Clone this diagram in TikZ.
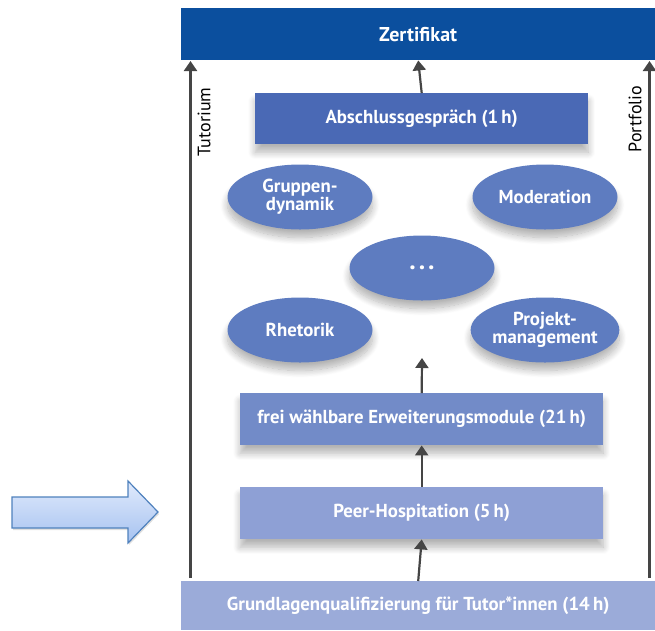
\documentclass[tikz,border=0pt]{standalone}
\usepackage{fontspec}
\setmainfont{PT Sans}
\usetikzlibrary{arrows.meta,shadows,shadows.blur,shapes.geometric}
\definecolor{zert}{HTML}{0B4F9E}
\definecolor{absch}{HTML}{4A69B5}
\definecolor{ell}{HTML}{5E7CC0}
\definecolor{frei}{HTML}{728BC8}
\definecolor{peer}{HTML}{8EA0D5}
\definecolor{grund}{HTML}{9BABD9}
\definecolor{arr}{HTML}{454545}
\definecolor{barrow}{RGB}{79,129,189}
\definecolor{btop}{RGB}{224,234,252}
\definecolor{bbot}{RGB}{166,194,240}
\tikzset{
  box/.style={rectangle, inner sep=0pt, text=white, font=\bfseries\fontsize{18.8}{18}\selectfont, align=center},
  shad/.style={blur shadow={shadow blur steps=12, shadow xshift=0pt, shadow yshift=-8pt, shadow opacity=30, shadow blur radius=7pt}},
  oval/.style={ellipse, fill=ell, minimum width=145pt, minimum height=65pt, inner sep=0pt, text=white, font=\bfseries\fontsize{18.8}{18}\selectfont, align=center, shad},
  uparr/.style={draw=arr, line width=2.2pt, -{Triangle[length=10pt,width=13pt]}},
  side/.style={rotate=90, font=\fontsize{18}{18}\selectfont},
}
\begin{document}
\begin{tikzpicture}[x=1pt,y=-1pt]
\useasboundingbox (0,0) rectangle (655,630);
% top bar
\node[box, fill=zert, minimum width=474pt, minimum height=52pt, anchor=north west, font=\bfseries\fontsize{20}{20}\selectfont] (zert) at (181,8) {Zertifikat};
% boxes
\node[box, fill=absch, minimum width=333pt, minimum height=51pt, anchor=north west, shad] (absch) at (255,93) {Abschlussgespräch (1\,h)};
\node[oval] (grupp) at (300,197) {Gruppen-\\dynamik};
\node[oval] (moder) at (545,197) {Moderation};
\node[oval, font=\bfseries\fontsize{26}{20}\selectfont] (dots) at (422,268) {\raisebox{-4pt}{.\hspace{3pt}.\hspace{3pt}.}};
\node[oval] (rhet) at (300,330) {Rhetorik};
\node[oval] (proj) at (545,330) {Projekt-\\management};
\node[box, fill=frei, minimum width=363pt, minimum height=52pt, anchor=north west, shad] (frei) at (240,393) {frei wählbare Erweiterungsmodule (21\,h)};
\node[box, fill=peer, minimum width=363pt, minimum height=52pt, anchor=north west, shad] (peer) at (240,487) {Peer-Hospitation (5\,h)};
\node[box, fill=grund, minimum width=474pt, minimum height=49pt, anchor=north west] (grund) at (181,581) {Grundlagenqualifizierung für Tutor*innen (14\,h)};
% arrows
\coordinate (fretip) at (422,358);
\draw[uparr] (absch.north) -- (zert.south);
\draw[uparr] (frei.north) -- (fretip);
\draw[uparr] (peer.north) -- (frei.south);
\draw[uparr] (grund.north) -- (peer.south);
\coordinate (lb) at (190.5,578);
\coordinate (lt) at (190.5,61);
\coordinate (rb) at (649.5,578);
\coordinate (rt) at (649.5,61);
\draw[uparr] (lb) -- (lt);
\draw[uparr] (rb) -- (rt);
\node[side] (tut) at (204,122) {Tutorium};
\node[side] (port) at (635,119) {Portfolio};
% blue arrow
\draw[draw=barrow, line width=1.2pt, top color=btop, bottom color=bbot, line join=miter,
  drop shadow={opacity=0.25, shadow xshift=1pt, shadow yshift=-2pt}]
  (12,497) -- (128,497) -- (128,481) -- (158,512) -- (128,543) -- (128,528) -- (12,528) -- cycle;
\end{tikzpicture}
\end{document}
